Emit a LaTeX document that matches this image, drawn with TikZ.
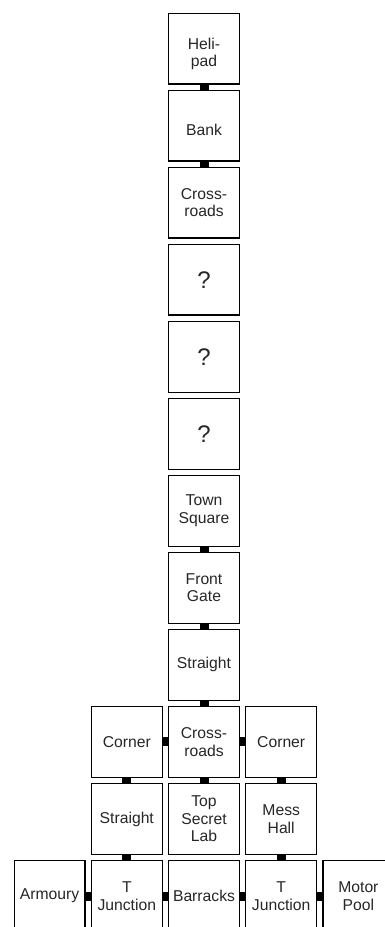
\documentclass[tikz,border=0pt]{standalone}
\usepackage{fontspec}
\setmainfont{Liberation Sans}
\begin{document}
\begin{tikzpicture}[x=1pt,y=-1pt,
  room/.style={draw=black, line width=1.2pt, minimum width=70.8pt, minimum height=70.8pt,
    inner sep=0pt, align=center, font=\fontsize{15.7}{17.5}\selectfont, text=black!85},
  qroom/.style={room, font=\fontsize{24}{26}\selectfont},
  link/.style={line width=9pt, black}]
\useasboundingbox (0,0) rectangle (385,927);
\clip (0,0) rectangle (385,927);
\def\cx#1{204+77.2*#1}
\def\ry#1{48.5+77.05*#1}
% centre column
\node[room] (heli) at (204,{\ry{0}}) {\raisebox{-6pt}[\height][\depth]{\begin{tabular}{@{}c@{}}Heli-\\pad\end{tabular}}};
\node[room] (bank) at (204,{\ry{1}}) {\raisebox{-4.5pt}[\height][\depth]{Bank}};
\node[room] (cross1) at (204,{\ry{2}}) {Cross-\\roads};
\node[qroom] (q1) at (204,{\ry{3}}) {?};
\node[qroom] (q2) at (204,{\ry{4}}) {?};
\node[qroom] (q3) at (204,{\ry{5}}) {?};
\node[room] (town) at (204,{\ry{6}}) {Town\\Square};
\node[room] (gate) at (204,{\ry{7}}) {Front\\Gate};
\node[room] (straight) at (204,{\ry{8}}) {Straight};
\node[room] (cross2) at (204,{\ry{9}}) {Cross-\\roads};
\node[room] (lab) at (204,{\ry{10}}) {Top\\Secret\\Lab};
\node[room] (barracks) at (204,{\ry{11}}) {Barracks};
% left and right
\node[room] (cornerL) at ({\cx{-1}},{\ry{9}}) {Corner};
\node[room] (cornerR) at ({\cx{1}},{\ry{9}}) {Corner};
\node[room] (straightL) at ({\cx{-1}},{\ry{10}}) {Straight};
\node[room] (mess) at ({\cx{1}},{\ry{10}}) {Mess\\Hall};
\node[room] (tjL) at ({\cx{-1}},{\ry{11}}) {T\\Junction};
\node[room] (tjR) at ({\cx{1}},{\ry{11}}) {T\\Junction};
\node[room] (armoury) at ({\cx{-2}},{\ry{11}}) {Armoury};
\node[room] (motor) at ({\cx{2}},{\ry{11}}) {Motor\\Pool};
% links
\draw[link] (heli.south) -- (bank.north);
\draw[link] (bank.south) -- (cross1.north);
\draw[link] (town.south) -- (gate.north);
\draw[link] (gate.south) -- (straight.north);
\draw[link] (straight.south) -- (cross2.north);
\draw[link] (cross2.south) -- (lab.north);
\draw[link] (cornerL.east) -- (cross2.west);
\draw[link] (cross2.east) -- (cornerR.west);
\draw[link] (cornerL.south) -- (straightL.north);
\draw[link] (cornerR.south) -- (mess.north);
\draw[link] (straightL.south) -- (tjL.north);
\draw[link] (mess.south) -- (tjR.north);
\draw[link] (armoury.east) -- (tjL.west);
\draw[link] (tjL.east) -- (barracks.west);
\draw[link] (barracks.east) -- (tjR.west);
\draw[link] (tjR.east) -- (motor.west);
\end{tikzpicture}
\end{document}
